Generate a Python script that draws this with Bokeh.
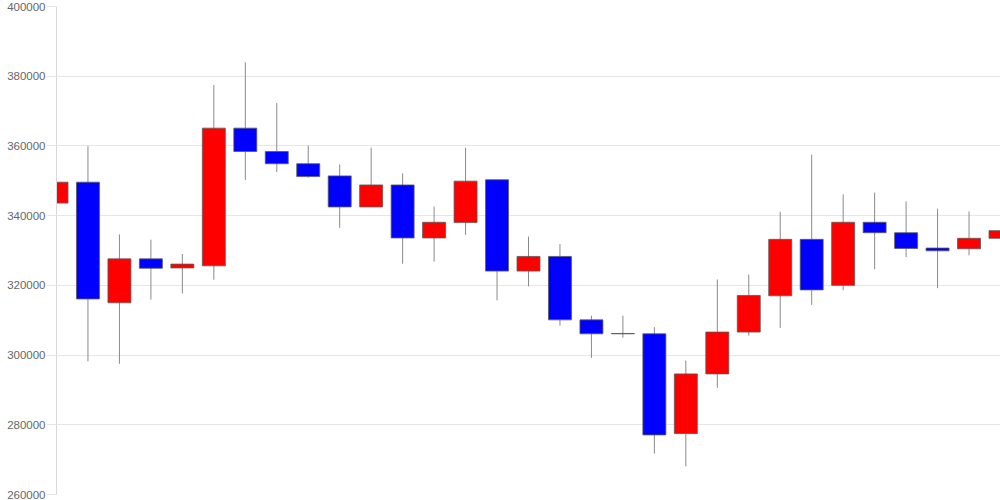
from bokeh.plotting import figure
from bokeh.models import Range1d, FixedTicker, BasicTickFormatter, ColumnDataSource
from bokeh.embed import file_html
from bokeh.resources import INLINE

opens = [343600, 349600, 315000, 327600, 325000, 325600, 365100, 358400, 354900, 351400,
         342500, 348800, 333600, 338000, 350300, 324100, 328300, 310100, 306100, 306100,
         277500, 294600, 306600, 317000, 333200, 320000, 338100, 335100, 330700, 330500,
         333500]
closes = [349600, 316100, 327600, 324900, 326100, 365100, 358400, 354900, 351200, 342500,
          348800, 333600, 338100, 349900, 324100, 328300, 310100, 306100, 306200, 277100,
          294600, 306600, 317100, 333200, 318700, 338100, 335100, 330600, 329900, 333500,
          335700]
highs = [355000, 359900, 334600, 333100, 329000, 377500, 384000, 372300, 360100, 354700,
         359500, 352100, 342600, 359500, 350300, 334000, 331900, 311300, 311300, 308000,
         298400, 321700, 323100, 341100, 357500, 346100, 346600, 344100, 342000, 341200,
         346400]
lows = [341000, 298200, 297500, 315900, 317700, 321600, 350200, 352500, 350900, 336500,
        342500, 326200, 326800, 334500, 315700, 319700, 308400, 299200, 305000, 271700,
        268100, 290600, 305600, 307800, 314400, 318600, 324600, 328100, 319200, 328600,
        327000]
y_ticks = [260000, 280000, 300000, 320000, 340000, 360000, 380000, 400000]

idx = list(range(len(opens)))
colors = ["#ff0000" if c >= o else "#0000ff" for o, c in zip(opens, closes)]
tops = [max(o, c) for o, c in zip(opens, closes)]
bottoms = [min(o, c) for o, c in zip(opens, closes)]

src = ColumnDataSource(dict(x=idx, high=highs, low=lows, top=tops, bottom=bottoms, color=colors))

p = figure(width=1000, height=500, output_backend="svg", toolbar_location=None,
           x_range=Range1d(0, len(opens) - 1), y_range=Range1d(y_ticks[0], y_ticks[-1]),
           min_border_left=56, min_border_right=0, min_border_top=6, min_border_bottom=6)
p.outline_line_color = None
p.background_fill_color = "white"
p.border_fill_color = "white"

p.segment(x0="x", y0="high", x1="x", y1="low", source=src, line_color="#8a8a8a", line_width=1)
p.vbar(x="x", width=0.73, top="top", bottom="bottom", source=src,
       fill_color="color", line_color="#5a5a5a", line_width=1, line_alpha=0.8)

p.xaxis.visible = False
p.xgrid.visible = False
p.ygrid.grid_line_color = "#e6e6e6"
p.yaxis.ticker = FixedTicker(ticks=y_ticks)
p.yaxis.formatter = BasicTickFormatter(use_scientific=False)
p.yaxis.minor_tick_line_color = None
p.yaxis.major_tick_in = 0
p.yaxis.major_tick_out = 10
p.yaxis.major_tick_line_color = "#e6e6e6"
p.yaxis.axis_line_color = "#d9d9d9"
p.yaxis.major_label_standoff = 1
p.yaxis.major_label_text_font = "Liberation Sans"
p.yaxis.major_label_text_font_size = "11.5px"
p.yaxis.major_label_text_color = "#666666"

open("out.html", "w").write(file_html(p, INLINE))
